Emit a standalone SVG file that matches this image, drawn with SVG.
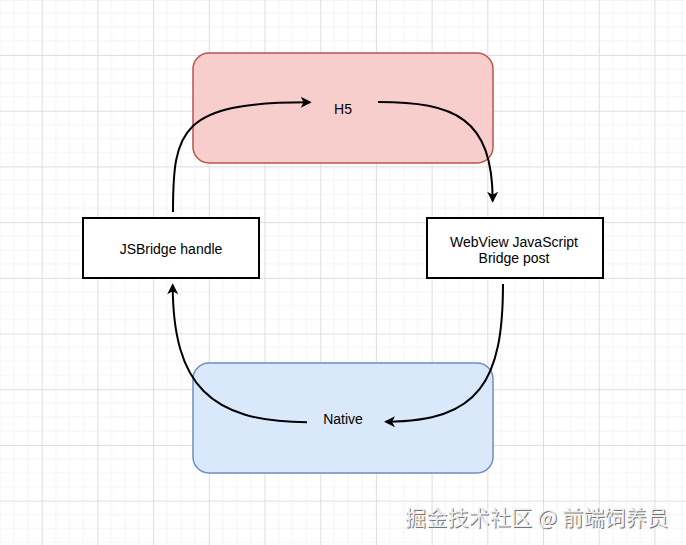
<svg xmlns="http://www.w3.org/2000/svg" width="686" height="545" viewBox="0 0 686 545">
<style>
.lbl{font-family:"Liberation Sans",Arial,Helvetica,sans-serif;font-size:14px;fill:#000;text-anchor:middle}
.box{fill:#fff;stroke:#000;stroke-width:2}
.edge{fill:none;stroke:#000;stroke-width:2;marker-end:url(#arr)}
.wm{font-family:"Noto Sans CJK SC","Noto Sans",sans-serif;font-size:21px}
</style>
<defs>
<pattern id="grid" patternUnits="userSpaceOnUse" x="41.7" y="55" width="55.7" height="55.7">
<path d="M13.93 0V55.7M27.85 0V55.7M41.78 0V55.7M0 13.93H55.7M0 27.85H55.7M0 41.78H55.7" stroke="#f3f3f3" stroke-width="1" fill="none"/>
<path d="M0.5 0V55.7M0 0.5H55.7" stroke="#dedede" stroke-width="1" fill="none"/>
</pattern>
<marker id="arr" markerUnits="userSpaceOnUse" markerWidth="12" markerHeight="12" refX="9" refY="5.5" orient="auto" overflow="visible">
<path d="M0,0 L11,5.5 L0,11 L3,5.5 Z" fill="#000"/>
</marker>
</defs>
<rect width="686" height="545" fill="#fff"/>
<rect width="686" height="545" fill="url(#grid)"/>
<g id="h5">
<rect x="193" y="53" width="300" height="110" rx="16" fill="#f8cecc" stroke="#b85450" stroke-width="1.5"/>
<text class="lbl" x="343" y="114">H5</text>
</g>
<g id="native">
<rect x="193" y="363" width="300" height="110" rx="16" fill="#dae8fc" stroke="#6c8ebf" stroke-width="1.5"/>
<text class="lbl" x="343" y="424">Native</text>
</g>
<g id="jsbridge">
<rect class="box" x="83" y="218" width="176" height="60"/>
<text class="lbl" x="171" y="254">JSBridge handle</text>
</g>
<g id="webview">
<rect class="box" x="427" y="218" width="176" height="60"/>
<text class="lbl" x="514" y="246.5">WebView JavaScript</text>
<text class="lbl" x="514" y="262.5">Bridge post</text>
</g>
<g id="connectors">
<path class="edge" d="M173,212 C173,130 180,102 309.7,102.3"/>
<path class="edge" d="M378,102 C455,102 492.5,118 492.7,200.7"/>
<path class="edge" d="M503,284 C503,380 480,422 386,421.7"/>
<path class="edge" d="M307,422.3 C210,422 173,385 172.7,285.3"/>
</g>
<g id="watermark">
<text class="wm" x="406" y="526" textLength="263" fill="#555" opacity="0.8">掘金技术社区 @ 前端饲养员</text>
<text class="wm" x="405" y="525" textLength="263" fill="#eeeeee">掘金技术社区 @ 前端饲养员</text>
</g>
</svg>
